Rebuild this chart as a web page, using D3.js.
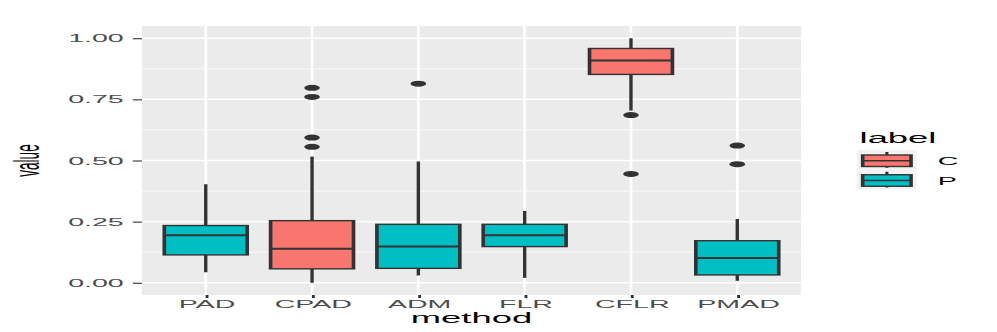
<!DOCTYPE html>
<html>
<head>
<title>Boxplot by method</title>
<script src="https://cdn.jsdelivr.net/npm/d3@7/dist/d3.min.js"></script>
<style>
body { margin: 0; background: #fff; }
svg text { font-family: "Liberation Sans", Arial, sans-serif; }
</style>
</head>
<body>
<script>
// values
var methods = ["PAD", "CPAD", "ADM", "FLR", "CFLR", "PMAD"];
var labels = ["P", "C", "P", "P", "C", "P"];
var whiskerLow = [0.043, 0.000, 0.030, 0.020, 0.704, 0.008];
var q1 = [0.114, 0.057, 0.059, 0.148, 0.852, 0.032];
var medians = [0.194, 0.139, 0.148, 0.194, 0.909, 0.101];
var q3 = [0.234, 0.254, 0.239, 0.239, 0.958, 0.172];
var whiskerHigh = [0.403, 0.516, 0.496, 0.294, 1.000, 0.261];
var outliers = [[], [0.797, 0.760, 0.594, 0.556], [0.814], [], [0.686, 0.445], [0.561, 0.485]];
var yTicks = [0, 0.25, 0.5, 0.75, 1];
var yMinor = [0.125, 0.375, 0.625, 0.875];
var legendKeys = ["C", "P"];

// the picture is a ggplot stretched sideways, so draw in a narrow box and stretch it
var k = 2.6;
var W = 997 / k, H = 332;
var pLeft = 54.6, pRight = 308.1, pTop = 26, pBottom = 295;

var color = d3.scaleOrdinal().domain(["C", "P"]).range(["#F8766D", "#00BFC4"]);

var svg = d3.select("body").append("svg")
    .attr("width", 997)
    .attr("height", 332)
    .attr("viewBox", "0 0 " + W + " " + H)
    .attr("preserveAspectRatio", "none");

var x = d3.scalePoint().domain(methods).range([pLeft, pRight]).padding(0.6);
var y = d3.scaleLinear().domain([-0.05, 1.05]).range([pBottom, pTop]);
var boxW = x.step() * 0.78;

svg.append("rect")
    .attr("x", pLeft).attr("y", pTop)
    .attr("width", pRight - pLeft).attr("height", pBottom - pTop)
    .attr("fill", "#EBEBEB");

svg.selectAll("line.minor").data(yMinor).enter().append("line")
    .attr("x1", pLeft).attr("x2", pRight)
    .attr("y1", function(d) { return y(d); })
    .attr("y2", function(d) { return y(d); })
    .attr("stroke", "#fff").attr("stroke-width", 0.8);

svg.selectAll("line.major").data(yTicks).enter().append("line")
    .attr("x1", pLeft).attr("x2", pRight)
    .attr("y1", function(d) { return y(d); })
    .attr("y2", function(d) { return y(d); })
    .attr("stroke", "#fff").attr("stroke-width", 1.5);

svg.selectAll("line.vgrid").data(methods).enter().append("line")
    .attr("x1", function(d) { return x(d); })
    .attr("x2", function(d) { return x(d); })
    .attr("y1", pTop).attr("y2", pBottom)
    .attr("stroke", "#fff").attr("stroke-width", 1.05);

// boxes
var g = svg.selectAll("g.box").data(methods).enter().append("g")
    .attr("class", "box");

g.append("line")
    .attr("x1", function(d) { return x(d); })
    .attr("x2", function(d) { return x(d); })
    .attr("y1", function(d, i) { return y(whiskerHigh[i]); })
    .attr("y2", function(d, i) { return y(q3[i]); })
    .attr("stroke", "#333").attr("stroke-width", 1.3);

g.append("line")
    .attr("x1", function(d) { return x(d); })
    .attr("x2", function(d) { return x(d); })
    .attr("y1", function(d, i) { return y(q1[i]); })
    .attr("y2", function(d, i) { return y(whiskerLow[i]); })
    .attr("stroke", "#333").attr("stroke-width", 1.3);

g.append("rect")
    .attr("x", function(d) { return x(d) - boxW / 2; })
    .attr("width", boxW)
    .attr("y", function(d, i) { return y(q3[i]); })
    .attr("height", function(d, i) { return y(q1[i]) - y(q3[i]); })
    .attr("fill", function(d, i) { return color(labels[i]); })
    .attr("stroke", "#333").attr("stroke-width", 1.4);

g.append("line")
    .attr("x1", function(d) { return x(d) - boxW / 2; })
    .attr("x2", function(d) { return x(d) + boxW / 2; })
    .attr("y1", function(d, i) { return y(medians[i]); })
    .attr("y2", function(d, i) { return y(medians[i]); })
    .attr("stroke", "#333").attr("stroke-width", 2);

g.each(function(d, i) {
    d3.select(this).selectAll("circle").data(outliers[i]).enter().append("circle")
        .attr("cx", x(d))
        .attr("cy", function(v) { return y(v); })
        .attr("r", 3)
        .attr("fill", "#333");
});

// axes
var yAxis = svg.append("g")
    .attr("transform", "translate(" + pLeft + ",0)")
    .call(d3.axisLeft(y).tickValues(yTicks).tickFormat(d3.format(".2f")).tickSize(3.5).tickPadding(3.5));
var xAxis = svg.append("g")
    .attr("transform", "translate(0," + pBottom + ")")
    .call(d3.axisBottom(x).tickSize(3).tickPadding(2));

[yAxis, xAxis].forEach(function(a) {
    a.select(".domain").remove();
    a.selectAll(".tick line").attr("stroke", "#333").attr("stroke-width", 1.1);
    a.selectAll(".tick text")
        .attr("fill", "#4D4D4D")
        .attr("font-size", "11px")
        .attr("font-family", "Liberation Sans, Arial, sans-serif");
});

svg.append("text")
    .attr("x", (pLeft + pRight) / 2)
    .attr("y", 323)
    .attr("text-anchor", "middle")
    .attr("font-size", "14px")
    .attr("fill", "#000")
    .text("method");

svg.append("text")
    .attr("transform", "translate(15," + (pTop + pBottom) / 2 + ") rotate(-90)")
    .attr("text-anchor", "middle")
    .attr("font-size", "13.5px")
    .attr("fill", "#000")
    .text("value");

// legend
var lx = 329.6, ly = 150, kw = 23, kh = 19.75;
svg.append("text")
    .attr("x", 330.6).attr("y", 143)
    .attr("font-size", "14px")
    .attr("fill", "#000")
    .text("label");

var key = svg.selectAll("g.key").data(legendKeys).enter().append("g")
    .attr("transform", function(d, i) { return "translate(" + lx + "," + (ly + i * kh) + ")"; });

key.append("rect")
    .attr("width", kw).attr("height", kh)
    .attr("fill", "#F2F2F2");
key.append("line")
    .attr("x1", kw / 2).attr("x2", kw / 2)
    .attr("y1", 2).attr("y2", kh - 2)
    .attr("stroke", "#333").attr("stroke-width", 1.2);
key.append("rect")
    .attr("x", 2.2).attr("width", kw - 4.4)
    .attr("y", 5).attr("height", 11.5)
    .attr("fill", function(d) { return color(d); })
    .attr("stroke", "#333").attr("stroke-width", 1.4);
key.append("line")
    .attr("x1", 2.2).attr("x2", kw - 2.2)
    .attr("y1", 10.75).attr("y2", 10.75)
    .attr("stroke", "#333").attr("stroke-width", 1.4);
key.append("text")
    .attr("x", 360.7 - lx)
    .attr("y", 15)
    .attr("font-size", "11px")
    .attr("fill", "#000")
    .text(function(d) { return d; });
</script>
</body>
</html>
